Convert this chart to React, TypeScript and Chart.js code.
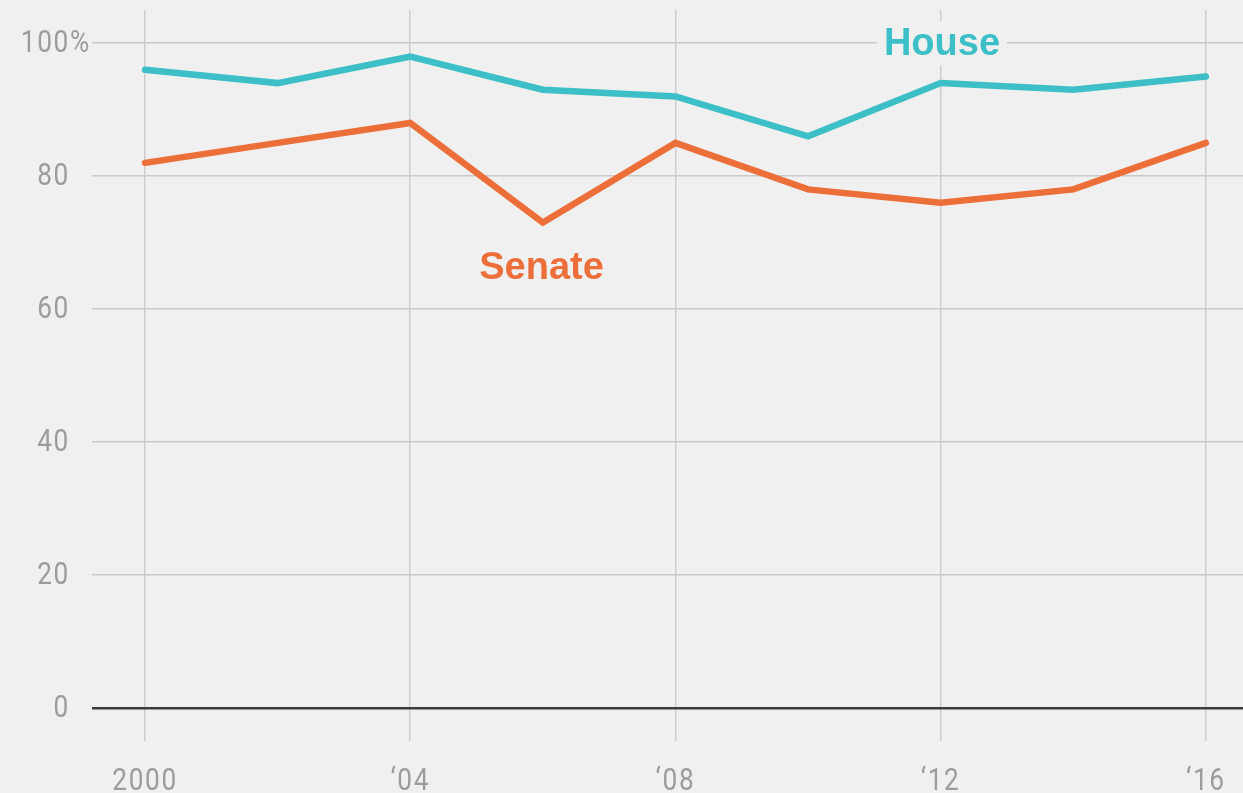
import React, { useEffect, useRef } from "react";
import { Chart, registerables } from "chart.js";

Chart.register(...registerables);

const years = [2000, 2002, 2004, 2006, 2008, 2010, 2012, 2014, 2016];
const houseValues = [96, 94, 98, 93, 92, 86, 94, 93, 95];
const senateValues = [82, 85, 88, 73, 85, 78, 76, 78, 85];
const yTickValues = [0, 20, 40, 60, 80, 100];
const yTickLabels = ["0", "20", "40", "60", "80", "100"];
const xTickValues = [2000, 2004, 2008, 2012, 2016];
const xTickLabels = ["2000", "\u201804", "\u201808", "\u201812", "\u201816"];

const BG = "#f0f0f0";
const TEAL = "#3cbfc7";
const ORANGE = "#ec6f3a";
const TICK_COLOR = "#9c9c9c";
const TICK_FONT = '400 32px Roboto, "DejaVu Sans", sans-serif';
const TICK_SQUEEZE = 0.82;
const LABEL_FONT = '"Liberation Sans", Arial, sans-serif';

const annotations = [
  { text: "House", x: 2012.02, y: 100, color: TEAL, mask: true },
  { text: "Senate", x: 2005.98, y: 66.2, color: ORANGE, mask: false },
];

function squeezedText(ctx: CanvasRenderingContext2D, text: string, x: number, y: number, align: CanvasTextAlign) {
  ctx.save();
  ctx.translate(x, y);
  ctx.scale(TICK_SQUEEZE, 1);
  ctx.textAlign = align;
  ctx.fillText(text, 0, 0);
  ctx.restore();
}

export default function App() {
  const ref = useRef<HTMLCanvasElement | null>(null);

  useEffect(() => {
    if (!ref.current) return;
    const labelPlugin = {
      id: "labels",
      afterDraw(chart: any) {
        const ctx = chart.ctx as CanvasRenderingContext2D;
        const xs = chart.scales.x;
        const ys = chart.scales.y;
        const area = chart.chartArea;
        ctx.save();
        ctx.font = TICK_FONT;
        (ctx as any).letterSpacing = "2px";
        ctx.fillStyle = TICK_COLOR;
        ctx.textBaseline = "middle";
        const yRight = area.left - 22;
        yTickValues.forEach((v, i) => {
          squeezedText(ctx, yTickLabels[i], yRight, ys.getPixelForValue(v) + 1, "right");
        });
        squeezedText(ctx, "%", yRight, ys.getPixelForValue(100) + 1, "left");
        ctx.textBaseline = "alphabetic";
        xTickValues.forEach((v, i) => {
          squeezedText(ctx, xTickLabels[i], xs.getPixelForValue(v), area.bottom + 49, "center");
        });
        // series labels
        (ctx as any).letterSpacing = "0px";
        ctx.font = `bold 38px ${LABEL_FONT}`;
        ctx.textBaseline = "middle";
        ctx.textAlign = "center";
        for (const a of annotations) {
          const px = xs.getPixelForValue(a.x);
          const py = ys.getPixelForValue(a.y);
          const w = ctx.measureText(a.text).width;
          if (a.mask) {
            ctx.fillStyle = BG;
            ctx.fillRect(px - w / 2 - 7, py - 22, w + 14, 44);
          }
          ctx.fillStyle = a.color;
          ctx.fillText(a.text, px, py + 1);
        }
        ctx.restore();
      },
    };

    const chart = new Chart(ref.current, {
      type: "line",
      data: {
        datasets: [
          {
            label: "House",
            data: years.map((y, i) => ({ x: y, y: houseValues[i] })),
            borderColor: TEAL,
            borderWidth: 6.5,
            pointRadius: 0,
            borderCapStyle: "round",
            tension: 0,
          },
          {
            label: "Senate",
            data: years.map((y, i) => ({ x: y, y: senateValues[i] })),
            borderColor: ORANGE,
            borderWidth: 6.5,
            pointRadius: 0,
            borderCapStyle: "round",
            tension: 0,
          },
        ],
      },
      options: {
        responsive: false,
        animation: false,
        layout: { padding: { top: 10, left: 0, right: 0, bottom: 0 } },
        plugins: { legend: { display: false }, tooltip: { enabled: false } },
        scales: {
          x: {
            type: "linear",
            min: 1999.2,
            max: 2016.56,
            afterBuildTicks: (s: any) => {
              s.ticks = xTickValues.map((v) => ({ value: v }));
            },
            afterFit: (s: any) => {
              s.height = 52;
              s.paddingLeft = 0;
              s.paddingRight = 0;
              s.paddingTop = 0;
              s.paddingBottom = 0;
            },
            ticks: { display: false },
            grid: { color: "#cdcdcd", lineWidth: 1.5, drawTicks: false },
            border: { display: false },
          },
          y: {
            min: -5,
            max: 105,
            afterBuildTicks: (s: any) => {
              s.ticks = yTickValues.map((v) => ({ value: v }));
            },
            afterFit: (s: any) => {
              s.width = 92;
              s.paddingLeft = 0;
              s.paddingRight = 0;
              s.paddingTop = 0;
              s.paddingBottom = 0;
            },
            ticks: { display: false },
            grid: {
              drawTicks: false,
              color: (c: any) => (c.tick && c.tick.value === 0 ? "#3c3c3c" : "#cacaca"),
              lineWidth: (c: any) => (c.tick && c.tick.value === 0 ? 2.5 : 1.5),
            },
            border: { display: false },
          },
        },
      },
      plugins: [labelPlugin],
    } as any);
    return () => chart.destroy();
  }, []);

  return (
    <div style={{ position: "fixed", left: 0, top: 0, width: 1243, height: 793, background: BG }}>
      <canvas ref={ref} width={1243} height={793} style={{ display: "block" }} />
    </div>
  );
}
